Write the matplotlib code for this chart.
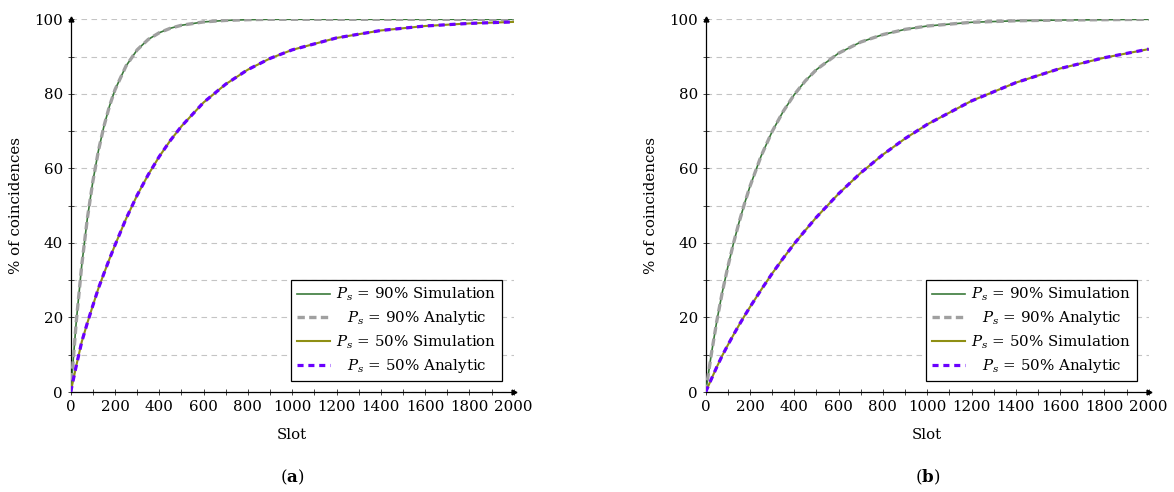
import matplotlib
matplotlib.use("Agg")
import matplotlib.pyplot as plt
from matplotlib.ticker import MultipleLocator

plt.rcParams['font.family'] = ['DejaVu Serif']
plt.rcParams['mathtext.fontset'] = 'dejavuserif'

# ---------------- data ----------------
slots = [0, 25, 50, 75, 100, 125, 150, 175, 200, 250, 300, 350, 400, 450, 500,
         600, 700, 800, 900, 1000, 1200, 1400, 1600, 1800, 2000]

# panel (a)
a_sim90 = [0, 18.8, 34.1, 46.5, 56.5, 64.7, 71.3, 76.7, 81.1, 87.5, 91.8, 94.6, 96.4,
           97.6, 98.4, 99.3, 99.7, 99.9, 100, 100, 100, 100, 100, 100, 100]
a_ana90 = [0, 18.8, 34.1, 46.5, 56.5, 64.7, 71.3, 76.7, 81.1, 87.5, 91.8, 94.6, 96.4,
           97.6, 98.4, 99.3, 99.7, 99.9, 100, 100, 100, 100, 100, 100, 100]
a_sim50 = [0, 7.0, 13.5, 18.5, 23.2, 27.8, 31.8, 35.7, 39.4, 46.5, 52.8, 58.3, 63.2,
           67.5, 71.3, 77.7, 82.6, 86.5, 89.5, 91.8, 95.0, 97.0, 98.2, 98.9, 99.3]
a_ana50 = [0, 7.0, 13.5, 18.5, 23.2, 27.8, 31.8, 35.7, 39.4, 46.5, 52.8, 58.3, 63.2,
           67.5, 71.3, 77.7, 82.6, 86.5, 89.5, 91.8, 95.0, 97.0, 98.2, 98.9, 99.3]

# panel (b)
b_sim90 = [0, 10.0, 19.0, 26.8, 33.6, 39.8, 45.4, 50.5, 55.2, 63.3, 69.9, 75.3, 79.8,
           83.5, 86.5, 90.9, 93.9, 95.9, 97.3, 98.2, 99.2, 99.6, 99.8, 99.9, 100]
b_ana90 = [0, 10.0, 19.0, 26.8, 33.6, 39.8, 45.4, 50.5, 55.2, 63.3, 69.9, 75.3, 79.8,
           83.5, 86.5, 90.9, 93.9, 95.9, 97.3, 98.2, 99.2, 99.6, 99.8, 99.9, 100]
b_sim50 = [0, 3.4, 6.7, 9.8, 12.6, 15.3, 17.9, 20.4, 22.8, 27.4, 31.8, 35.9, 39.8,
           43.4, 46.9, 53.2, 58.8, 63.7, 68.0, 71.8, 78.1, 83.0, 86.8, 89.7, 92.0]
b_ana50 = [0, 3.4, 6.7, 9.8, 12.6, 15.3, 17.9, 20.4, 22.8, 27.4, 31.8, 35.9, 39.8,
           43.4, 46.9, 53.2, 58.8, 63.7, 68.0, 71.8, 78.1, 83.0, 86.8, 89.7, 92.0]

x_ticks = [0, 200, 400, 600, 800, 1000, 1200, 1400, 1600, 1800, 2000]
y_ticks = [0, 20, 40, 60, 80, 100]
labels = [r'$P_s$ = 90% Simulation', r'$P_s$ = 90% Analytic',
          r'$P_s$ = 50% Simulation', r'$P_s$ = 50% Analytic']
panel_names = ['a', 'b']

# ---------------- styles ----------------
C_GREEN = '#3b7a3b'
C_GRAY = '#a0a0a0'
C_OLIVE = '#8f8f14'
C_PURPLE = '#6a00ff'
FS = 10.8

W, H = 1174, 492
fig = plt.figure(figsize=(W / 100, H / 100), dpi=100)

axes_px = [(70.7, 19.3, 443.0, 372.7), (705.7, 19.3, 443.0, 372.7)]
panels = [(a_sim90, a_ana90, a_sim50, a_ana50), (b_sim90, b_ana90, b_sim50, b_ana50)]

for (lx, ty, w, h), series, name in zip(axes_px, panels, panel_names):
    ax = fig.add_axes([lx / W, 1 - (ty + h) / H, w / W, h / H])
    s90, a90, s50, a50 = series
    ax.plot(slots, s90, color=C_GREEN, lw=1.2, label=labels[0], zorder=3)
    ax.plot(slots, a90, color=C_GRAY, lw=2.4, ls=(0, (2.2, 1.3)), label=labels[1], zorder=4)
    ax.plot(slots, s50, color=C_OLIVE, lw=1.5, label=labels[2], zorder=5)
    ax.plot(slots, a50, color=C_PURPLE, lw=2.3, ls=(0, (1.9, 1.5)), label=labels[3], zorder=6)

    ax.set_xlim(0, 2000)
    ax.set_ylim(0, 100)
    ax.set_xticks(x_ticks)
    ax.set_yticks(y_ticks)
    ax.xaxis.set_minor_locator(MultipleLocator(100))
    ax.yaxis.set_minor_locator(MultipleLocator(10))
    ax.grid(True, which='both', axis='y', color='#c4c4c4', ls=(0, (5, 4)), lw=0.8)
    ax.set_axisbelow(True)
    for sp in ['top', 'right']:
        ax.spines[sp].set_visible(False)
    for sp in ['left', 'bottom']:
        ax.spines[sp].set_linewidth(0.9)
    ax.tick_params(which='both', direction='inout', color='#444444', width=0.7,
                   labelsize=FS, pad=3)
    ax.tick_params(which='major', length=5)
    ax.tick_params(which='minor', length=4)
    # arrow heads at axis ends
    ax.plot(1, 0, '>', color='black', ms=3.5, transform=ax.transAxes, clip_on=False, zorder=10)
    ax.plot(0, 1, '^', color='black', ms=3.5, transform=ax.transAxes, clip_on=False, zorder=10)

    ax.set_xlabel('Slot', fontsize=FS, labelpad=10)
    ax.set_ylabel('% of coincidences', fontsize=FS, labelpad=8)

    leg = ax.legend(loc='lower right', bbox_to_anchor=(1, 0), borderaxespad=0.75,
                    fontsize=FS, frameon=True, fancybox=False, edgecolor='black',
                    framealpha=1, handlelength=2.2, handletextpad=0.4,
                    labelspacing=0.4, borderpad=0.4)
    leg.get_frame().set_linewidth(0.9)
    leg.set_zorder(20)
    # centre the shorter labels within the legend column, as in the reference
    fig.canvas.draw()
    texts = leg.get_texts()
    widths = [t.get_window_extent().width for t in texts]
    wmax = max(widths)
    for t, wd in zip(texts, widths):
        t.set_position(((wmax - wd) / 2, 0))

    fig.text((lx + w / 2) / W, 1 - 477 / H, r'($\mathbf{' + name + r'}$)',
             ha='center', va='center', fontsize=12)

fig.savefig('out.png', dpi=100)
